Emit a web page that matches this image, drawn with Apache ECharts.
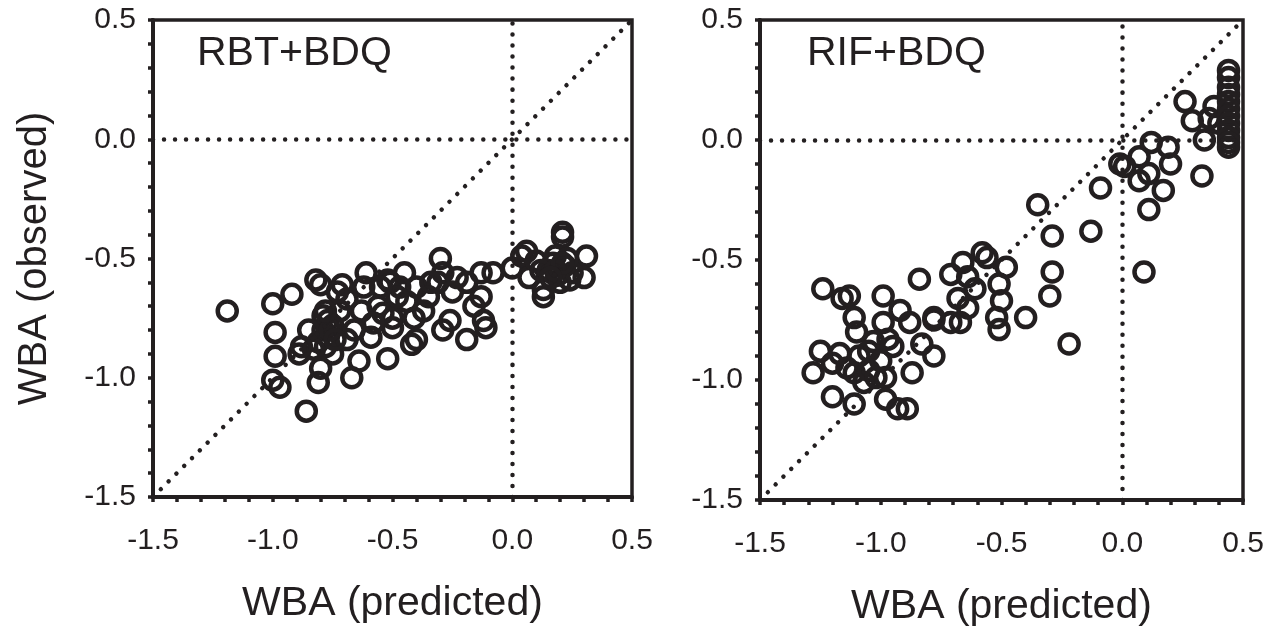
<!DOCTYPE html>
<html lang="en">
<head>
    <meta charset="UTF-8">
    <title>WBA predicted vs observed</title>
    <script src="https://cdn.jsdelivr.net/npm/echarts@6/dist/echarts.min.js"></script>
    <style>
        body { margin: 0; background: #fff; }
    </style>
</head>
<body>
    <div id="main" style="width: 1285px;height:632px;"></div>
    <script type="text/javascript">
        // tick values shared by both panels
        let tickMin = -1.5;
        let tickMax = 0.5;
        let panelTitles = ['RBT+BDQ', 'RIF+BDQ'];

        // RBT+BDQ panel
        let rbtPredicted = [-1.19, -1.00, -0.92, -0.99, -0.99, -1.00, -0.97, -0.86, -0.89, -0.82,
            -0.80, -0.71, -0.79, -0.77, -0.75, -0.79, -0.77, -0.81, -0.78, -0.75,
            -0.81, -0.83, -0.80, -0.69, -0.69, -0.63, -0.61, -0.62, -0.64, -0.67,
            -0.59, -0.54, -0.51, -0.52, -0.50, -0.52, -0.45, -0.50, -0.41, -0.40,
            -0.30, -0.29, -0.31, -0.23, -0.19, -0.13, -0.08, -0.29, -0.26, -0.19,
            -0.13, -0.12, -0.11, -0.16, 0.00, 0.04, 0.07, 0.13, 0.13, 0.21,
            0.21, 0.31, 0.30, 0.17, 0.10, 0.06, 0.24, 0.15, 0.19, 0.22,
            0.25, 0.18, 0.20, 0.12, 0.23, -0.40, -0.42, -0.37, -0.35, -0.44,
            -0.47, -0.56, -0.58, -0.66, -0.72, -0.73, -0.85, -0.88, -0.34, -0.25,
            -0.48, -0.55, -0.76, -0.78, -0.74, 0.18, 0.21, 0.16];
        let rbtObserved = [-0.72, -0.69, -0.65, -0.81, -0.91, -1.01, -1.04, -1.14, -0.90, -0.59,
            -0.61, -0.61, -0.74, -0.76, -0.78, -0.80, -0.83, -0.85, -0.87, -0.90,
            -1.02, -0.88, -0.96, -0.84, -0.67, -0.72, -0.56, -0.62, -0.93, -1.00,
            -0.83, -0.73, -0.60, -0.92, -0.79, -0.59, -0.56, -0.75, -0.75, -0.62,
            -0.50, -0.56, -0.60, -0.58, -0.60, -0.56, -0.56, -0.80, -0.76, -0.84,
            -0.66, -0.76, -0.79, -0.70, -0.54, -0.49, -0.58, -0.66, -0.63, -0.39,
            -0.41, -0.49, -0.58, -0.52, -0.51, -0.47, -0.59, -0.55, -0.57, -0.53,
            -0.56, -0.49, -0.60, -0.55, -0.50, -0.84, -0.86, -0.72, -0.66, -0.68,
            -0.62, -0.70, -0.77, -0.80, -0.72, -0.64, -0.80, -0.87, -0.60, -0.64,
            -0.66, -0.62, -0.80, -0.72, -0.84, -0.55, -0.52, -0.58];

        // RIF+BDQ panel
        let rifPredicted = [-1.24, -1.16, -1.13, -1.11, -1.10, -1.25, -1.28, -1.20, -1.17, -1.14,
            -1.11, -1.09, -1.07, -1.05, -1.02, -0.98, -0.99, -0.99, -0.97, -0.95,
            -0.92, -0.88, -0.87, -1.20, -1.11, -0.98, -0.93, -0.89, -0.84, -0.83,
            -0.78, -0.35, -0.29, -0.29, -0.30, -0.22, -0.40, -0.58, -0.56, -0.48,
            -0.51, -0.50, -0.52, -0.51, -0.66, -0.71, -0.64, -0.61, -0.68, -0.64,
            -0.67, -0.71, -0.78, -0.78, -1.03, -1.05, -1.00, -0.09, -0.13, 0.09,
            -0.01, 0.01, 0.07, 0.12, 0.19, 0.20, 0.11, 0.07, 0.17, 0.11,
            0.26, 0.29, 0.34, 0.33, 0.38, 0.40, 0.36, 0.44, 0.44, 0.44,
            0.44, 0.44, 0.44, 0.44, 0.44, 0.44, 0.44, 0.44, 0.44];
        let rifObserved = [-0.62, -0.66, -0.65, -0.74, -0.80, -0.88, -0.97, -0.93, -0.89, -0.95,
            -0.97, -0.90, -1.01, -0.96, -0.99, -0.99, -0.65, -0.76, -0.83, -0.86,
            -0.71, -0.76, -0.97, -1.07, -1.10, -1.08, -1.12, -1.12, -0.58, -0.85,
            -0.75, -0.27, -0.40, -0.55, -0.65, -0.85, -0.74, -0.47, -0.49, -0.53,
            -0.60, -0.67, -0.74, -0.79, -0.51, -0.56, -0.57, -0.62, -0.66, -0.70,
            -0.76, -0.76, -0.74, -0.90, -0.84, -0.88, -0.92, -0.20, -0.38, -0.55,
            -0.10, -0.11, -0.07, -0.01, -0.03, -0.10, -0.14, -0.17, -0.21, -0.29,
            0.16, 0.08, 0.00, -0.15, 0.14, 0.07, 0.09, 0.29, 0.26, 0.22,
            0.19, 0.16, 0.13, 0.10, 0.07, 0.04, 0.01, -0.01, -0.03];

        let ink = '#231f20';
        let fontFamily = 'Liberation Sans, Arial, sans-serif';

        let zip = (xs, ys) => xs.map((x, i) => [x, ys[i]]);

        // round dots ~11px apart, like the reference lines
        let dotLine = {
            color: ink,
            width: 4.5,
            type: [0.01, 11],
            cap: 'round'
        };

        // only every 0.5 gets a label, ticks every 0.1
        let tickLabel = (v) => Math.abs(v * 2 - Math.round(v * 2)) < 1e-6 ? v.toFixed(1) : '';

        let makeX = (gridIndex) => ({
            type: 'value',
            gridIndex: gridIndex,
            min: tickMin,
            max: tickMax,
            interval: 0.1,
            name: 'WBA (predicted)',
            nameLocation: 'middle',
            nameGap: 86,
            nameTextStyle: { fontSize: 41, color: ink, fontFamily: fontFamily },
            axisLine: { onZero: false, lineStyle: { color: ink, width: 4 } },
            axisTick: { show: true, length: 5, lineStyle: { color: ink, width: 3.5 } },
            splitLine: { show: false },
            axisLabel: {
                margin: 29,
                fontSize: 30,
                color: ink,
                fontFamily: fontFamily,
                formatter: tickLabel
            }
        });

        let makeY = (gridIndex, withName) => ({
            type: 'value',
            gridIndex: gridIndex,
            min: tickMin,
            max: tickMax,
            interval: 0.1,
            name: withName ? 'WBA (observed)' : '',
            nameLocation: 'middle',
            nameGap: 98,
            nameTextStyle: { fontSize: 40, color: ink, fontFamily: fontFamily },
            axisLine: { onZero: false, lineStyle: { color: ink, width: 4 } },
            axisTick: { show: true, length: 5, lineStyle: { color: ink, width: 3.5 } },
            splitLine: { show: false },
            axisLabel: {
                margin: 17,
                fontSize: 30,
                color: ink,
                fontFamily: fontFamily,
                formatter: tickLabel
            }
        });

        let makeSeries = (idx, data) => ({
            type: 'scatter',
            xAxisIndex: idx,
            yAxisIndex: idx,
            data: data,
            symbol: 'circle',
            symbolSize: 19,
            itemStyle: { color: 'rgba(0,0,0,0)', borderColor: ink, borderWidth: 4.5, opacity: 1 },
            emphasis: { disabled: true },
            markLine: {
                silent: true,
                symbol: 'none',
                label: { show: false },
                lineStyle: dotLine,
                data: [
                    { xAxis: 0 },
                    { yAxis: 0 },
                    [{ coord: [tickMin, tickMin] }, { coord: [tickMax, tickMax] }]
                ]
            }
        });

        let options = {
            animation: false,
            title: [
                { text: panelTitles[0], left: 192, top: 28, textStyle: { fontSize: 41, fontWeight: 'normal', color: ink, fontFamily: fontFamily } },
                { text: panelTitles[1], left: 802, top: 28, textStyle: { fontSize: 41, fontWeight: 'normal', color: ink, fontFamily: fontFamily } }
            ],
            grid: [
                { left: 153, top: 20, width: 479, height: 477, show: true, borderColor: ink, borderWidth: 3.5, backgroundColor: 'transparent' },
                { left: 760, top: 20, width: 483, height: 480, show: true, borderColor: ink, borderWidth: 3.5, backgroundColor: 'transparent' }
            ],
            xAxis: [makeX(0), makeX(1)],
            yAxis: [makeY(0, true), makeY(1, false)],
            series: [
                makeSeries(0, zip(rbtPredicted, rbtObserved)),
                makeSeries(1, zip(rifPredicted, rifObserved))
            ]
        };

        let myChart = echarts.init(document.getElementById('main'));
        myChart.setOption(options);
    </script>
</body>
</html>
